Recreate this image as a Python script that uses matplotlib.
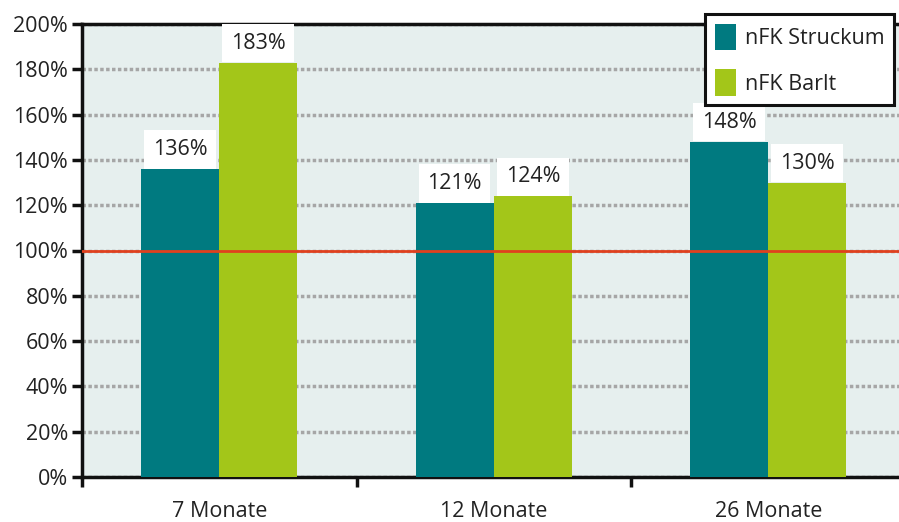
import matplotlib
matplotlib.use("Agg")
import matplotlib.pyplot as plt
import numpy as np
from matplotlib.ticker import FuncFormatter, MultipleLocator

categories = ["7 Monate", "12 Monate", "26 Monate"]
struckum = [136, 121, 148]
barlt = [183, 124, 130]
series_names = ["nFK Struckum", "nFK Barlt"]

plt.rcParams['font.family'] = ['Open Sans', 'DejaVu Sans']

fig = plt.figure(figsize=(8.99, 5.22), dpi=100)
W, H = 899, 522
left, right, top, bottom = 82, 905.5, 24, 477
ax = fig.add_axes([left / W, 1 - bottom / H, (right - left) / W, (bottom - top) / H])
ax.set_facecolor("#e6efee")

FS = 15.5
x = np.arange(len(categories))
bw = 0.285
teal = "#007a80"
green = "#a3c619"
b1 = ax.bar(x - bw / 2, struckum, bw, color=teal, label=series_names[0], zorder=3)
b2 = ax.bar(x + bw / 2, barlt, bw, color=green, label=series_names[1], zorder=3)

ax.set_ylim(0, 200)
ax.set_xlim(-0.5, 2.5)
ax.yaxis.set_major_locator(MultipleLocator(20))
ax.yaxis.set_major_formatter(FuncFormatter(lambda v, p: f"{int(v)}%"))
ax.set_xticks(x)
ax.set_xticklabels(categories)
ax.set_xticks([-0.5, 0.5, 1.5, 2.5], minor=True)
ax.tick_params(axis='x', which='major', length=0, pad=17, labelsize=FS, colors="#222222")
ax.tick_params(axis='x', which='minor', length=7, width=2.5, color="#111111", direction='out')
ax.tick_params(axis='y', length=7, width=2.5, color="#111111", labelsize=FS, labelcolor="#222222", pad=3)

ax.yaxis.grid(True, color="#a6a6a6", linestyle=(0, (1, 0.7)), linewidth=2.5, zorder=1)
ax.set_axisbelow(True)
for s in ["left", "bottom", "top"]:
    ax.spines[s].set_linewidth(2.5)
    ax.spines[s].set_color("#111111")
ax.spines["right"].set_visible(False)

ax.axhline(100, color="#e0401e", linewidth=2, zorder=4)

for bars, vals in ((b1, struckum), (b2, barlt)):
    for r, v in zip(bars, vals):
        ax.annotate(f"{v}%", (r.get_x() + r.get_width() / 2, v), xytext=(0, 14),
                    textcoords="offset points", ha="center", va="center",
                    fontsize=FS, color="#222222", zorder=5,
                    bbox=dict(boxstyle="square,pad=0.4", fc="white", ec="none"))

leg = ax.legend(loc="upper right", bbox_to_anchor=((894 - left) / (right - left), 1 + 10 / (bottom - top)),
                frameon=True, fancybox=False, framealpha=1, fontsize=FS, handlelength=1.0, handleheight=1.5,
                labelspacing=0.9, borderpad=0.45, handletextpad=0.4, borderaxespad=0,
                labelcolor="#222222")
leg.get_frame().set_edgecolor("#111111")
leg.get_frame().set_linewidth(2.2)
leg.get_frame().set_facecolor("white")
leg.set_zorder(6)

fig.savefig("out.png", dpi=100)
